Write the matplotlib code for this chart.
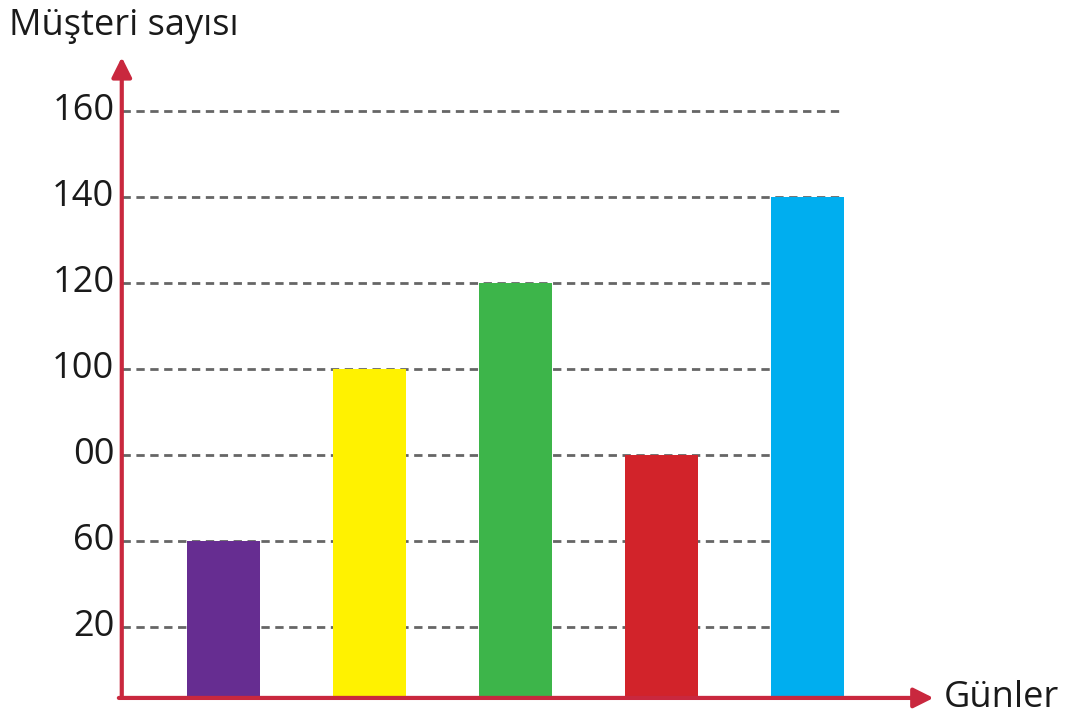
import matplotlib.pyplot as plt

# data
days = [0, 1, 2, 3, 4]
customers = [60, 100, 120, 80, 140]
bar_colors = ['#662d91', '#fff200', '#3db54a', '#d2232a', '#00aeef']
tick_values = [40, 60, 80, 100, 120, 140, 160]
tick_labels = ['20', '60', '00', '100', '120', '140', '160']

axis_color = '#c9283e'
base = 23.5

fig = plt.figure(figsize=(10.67, 7.24), dpi=100)
ax = fig.add_axes([0, 0, 1, 1])
ax.set_xlim(-1.534, 5.774)
ax.set_ylim(17.44, 185.8)
ax.axis('off')

# dashed grid lines + tick labels
for v, lab in zip(tick_values, tick_labels):
    ax.plot([-0.70, 4.25], [v, v], color='#666666', lw=2, ls=(0, (3, 2)), zorder=1)
    ax.text(-0.75, v, lab, ha='right', va='center',
            fontsize=26, family='Open Sans', color='#1a1a1a')

# bars
ax.bar(days, [c - base for c in customers], bottom=base, width=0.5,
       color=bar_colors, zorder=2)

# axes with arrows
ax.annotate('', xy=(-0.70, 172.5), xytext=(-0.70, base),
            arrowprops=dict(arrowstyle='-|>', color=axis_color, lw=3,
                            mutation_scale=30, shrinkA=0, shrinkB=0), zorder=3)
ax.annotate('', xy=(4.86, base), xytext=(-0.72, base),
            arrowprops=dict(arrowstyle='-|>', color=axis_color, lw=3,
                            mutation_scale=30, shrinkA=0, shrinkB=0), zorder=3)

ax.text(-1.47, 179.8, 'Müşteri sayısı', ha='left', va='center', fontsize=26,
        family='Open Sans', color='#1a1a1a')
ax.text(4.93, base, 'Günler', ha='left', va='center', fontsize=26,
        family='Open Sans', color='#1a1a1a')

plt.savefig('out.png')
